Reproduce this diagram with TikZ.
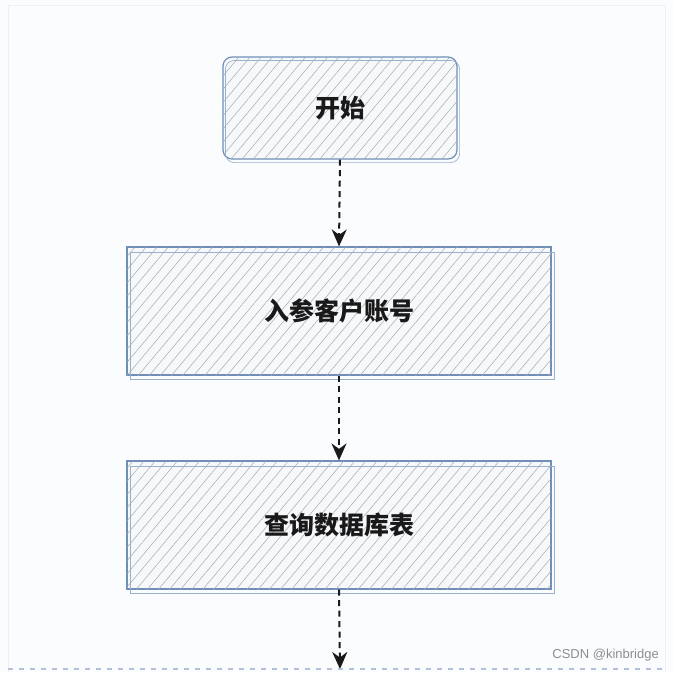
\documentclass[tikz,border=0pt]{standalone}
\usepackage{fontspec}
\setmainfont{Noto Sans CJK SC}
\newfontfamily\wmfont{Liberation Sans}
\usetikzlibrary{patterns.meta,arrows.meta}
\definecolor{edgeblue}{HTML}{6F8FB8}
\definecolor{hatchgray}{HTML}{A3ABB5}
\definecolor{boxfill}{HTML}{F6F8FA}
\definecolor{bgcol}{HTML}{FBFCFD}
\definecolor{framecol}{HTML}{EEF1F3}
\definecolor{wmgray}{HTML}{8A8F95}
\tikzset{
  hatchbox/.style={draw=edgeblue, line width=1.2pt, fill=boxfill,
    postaction={pattern={Lines[angle=50,distance=8.5pt,line width=0.5pt]}, pattern color=hatchgray},
    font=\bfseries\fontsize{25}{29}\selectfont, text=black!90, inner sep=0pt},
  sketchline/.style={draw=edgeblue!70, line width=0.7pt},
  flow/.style={black!90, line width=2pt, dash pattern=on 6pt off 4.5pt,
    -{Stealth[length=17pt,width=15pt]}},
}
\begin{document}
\begin{tikzpicture}[x=1pt,y=-1pt]
\fill[bgcol] (0,0) rectangle (673,672);
\draw[framecol, line width=0.8pt] (8,672) -- (8,5) -- (665,5) -- (665,672);
\useasboundingbox (0,0) rectangle (673,672);

% start node
\node[hatchbox, rounded corners=9pt, minimum width=234pt, minimum height=102pt] (start) at (340,108) {开始};
\draw[sketchline, rounded corners=9pt] ([shift={(3,4)}]start.north west) rectangle ([shift={(2,3)}]start.south east);

% step 2
\node[hatchbox, minimum width=424pt, minimum height=128pt] (input) at (339,311) {入参客户账号};
\draw[sketchline] ([shift={(4,6)}]input.north west) rectangle ([shift={(3,4)}]input.south east);

% step 3
\node[hatchbox, minimum width=424pt, minimum height=128pt] (query) at (339,525) {查询数据库表};
\draw[sketchline] ([shift={(4,6)}]query.north west) rectangle ([shift={(3,4)}]query.south east);

\coordinate (next) at (340,669);

\draw[flow] (start.south) -- (input.north);
\draw[flow] (input.south) -- (query.north);
\draw[flow] (query.south) -- (next);

% top edge of the next box
\draw[edgeblue!55, line width=1.2pt, dash pattern=on 5pt off 6pt] (8,669) -- (665,669);

\node[font=\wmfont\fontsize{13}{15}\selectfont, text=wmgray, anchor=east, inner sep=0pt] (wm) at (659,655) {CSDN @kinbridge};
\end{tikzpicture}
\end{document}
